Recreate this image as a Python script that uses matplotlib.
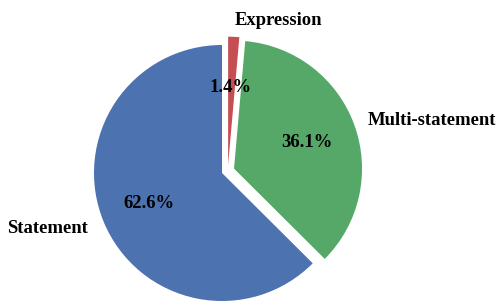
import matplotlib
matplotlib.use("Agg")
import matplotlib.pyplot as plt

# Share of each kind, clockwise from 12 o'clock.
categories = ["Expression", "Multi-statement", "Statement"]
shares = [1.4, 36.1, 62.6]
colours = ["#C44E52", "#55A868", "#4C72B0"]
explode = [0.065, 0.10, 0.0]

# Where the category name and the percentage sit (pie radius units).
name_pos = [(0.44, 1.19), (1.64, 0.41), (-1.36, -0.43)]
pct_pos = [(0.07, 0.67), (0.66, 0.24), (-0.57, -0.24)]

plt.rcParams["font.family"] = ["Liberation Serif", "DejaVu Serif"]

fig = plt.figure(figsize=(4.96, 3.02), dpi=100)
ax = fig.add_axes([0, 0, 1, 1])

wedges, _ = ax.pie(shares, colors=colours, explode=explode, startangle=90,
                   counterclock=False, radius=1.0,
                   wedgeprops=dict(linewidth=0))

# the tiny Expression slice is pulled a bit to the right as well
cx, cy = wedges[0].center
wedges[0].set_center((cx + 0.045, cy))

for name, share, (nx, ny), (px, py) in zip(categories, shares, name_pos, pct_pos):
    ax.text(nx, ny, name, ha="center", va="center", fontsize=13.4,
            fontweight="bold", color="black")
    ax.text(px, py, f"{share:.1f}%", ha="center", va="center", fontsize=13.4,
            fontweight="bold", color="black")

ax.set_aspect("equal")
ax.set_xlim(-222 / 128, (496 - 222) / 128)
ax.set_ylim((173 - 302) / 128, 173 / 128)
ax.axis("off")

fig.savefig("out.png", dpi=100)
